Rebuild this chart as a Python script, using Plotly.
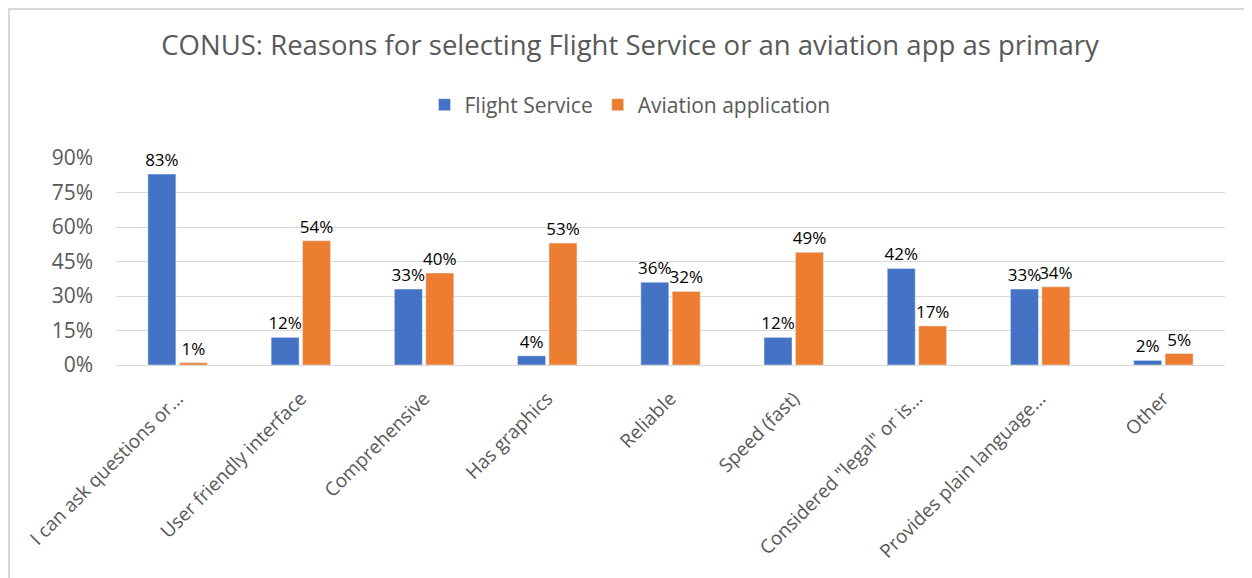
import plotly.graph_objects as go

categories = [
    "I can ask questions or...",
    "User friendly interface",
    "Comprehensive",
    "Has graphics",
    "Reliable",
    "Speed (fast)",
    "Considered \"legal\" or is...",
    "Provides plain language...",
    "Other",
]
flight_service = [83, 12, 33, 4, 36, 12, 42, 33, 2]
aviation_app = [1, 54, 40, 53, 32, 49, 17, 34, 5]
y_ticks = [0, 15, 30, 45, 60, 75, 90]

FONT = "Open Sans"
GREY = "#595959"

fig = go.Figure()
for name, vals, color in [
    ("Flight Service", flight_service, "#4472C4"),
    ("Aviation application", aviation_app, "#ED7D31"),
]:
    fig.add_trace(go.Bar(
        name=name, x=categories, y=vals,
        marker=dict(color=color),
        text=[f"{v}%" for v in vals], textposition="outside",
        textfont=dict(family=FONT, size=17, color="#000000"),
        constraintext="none", cliponaxis=False,
    ))

# page body has an 8px margin; figure is sized to fill the rest of the window
OFF = 8
W, H = 1252 - OFF, 578 - OFF
L = 116 - OFF
T = 158 - OFF
R = W - (1225 - OFF)
B = H - (365 - OFF)
pw, ph = W - L - R, H - T - B

def px_x(x):
    return (x - OFF - L) / pw

def px_y(y):
    return (H - B - (y - OFF)) / ph

fig.update_layout(
    width=W, height=H,
    margin=dict(l=L, r=R, t=T, b=B, pad=0, autoexpand=False),
    paper_bgcolor="white", plot_bgcolor="white",
    barmode="group", bargap=0.49, bargroupgap=0.11,
    font=dict(family=FONT, color=GREY),
    title=dict(
        text="CONUS: Reasons for selecting Flight Service or an aviation app as primary",
        x=(630 - OFF) / W, xanchor="center", xref="container",
        y=1 - (45 - OFF) / H, yanchor="middle",
        font=dict(family=FONT, size=27.5, color=GREY),
    ),
    legend=dict(
        orientation="h", xref="container", x=(630 - OFF) / W, xanchor="center",
        y=px_y(105), yanchor="middle",
        font=dict(family=FONT, size=21, color=GREY),
        itemwidth=30, traceorder="normal",
    ),
    xaxis=dict(
        tickangle=-45, tickfont=dict(family=FONT, size=19, color=GREY),
        showline=True, linecolor="#d9d9d9", linewidth=1,
        ticks="", showgrid=False, automargin=False, ticklabelstandoff=14,
    ),
    yaxis=dict(
        range=[0, 90], tickvals=y_ticks, ticktext=[f"{v}%" for v in y_ticks],
        tickfont=dict(family=FONT, size=21, color=GREY),
        showgrid=True, gridcolor="#d9d9d9", gridwidth=1,
        zeroline=True, zerolinecolor="#d9d9d9", zerolinewidth=1,
        showline=False, ticks="", ticklabelstandoff=22, automargin=False,
    ),
    shapes=[dict(
        type="rect", xref="paper", yref="paper",
        x0=px_x(OFF + 1), x1=px_x(1252 + 20), y0=px_y(578 + 20), y1=px_y(OFF + 1),
        line=dict(color="#d9d9d9", width=2), fillcolor="rgba(0,0,0,0)",
        layer="below",
    )],
)

fig.write_html("out.html")
